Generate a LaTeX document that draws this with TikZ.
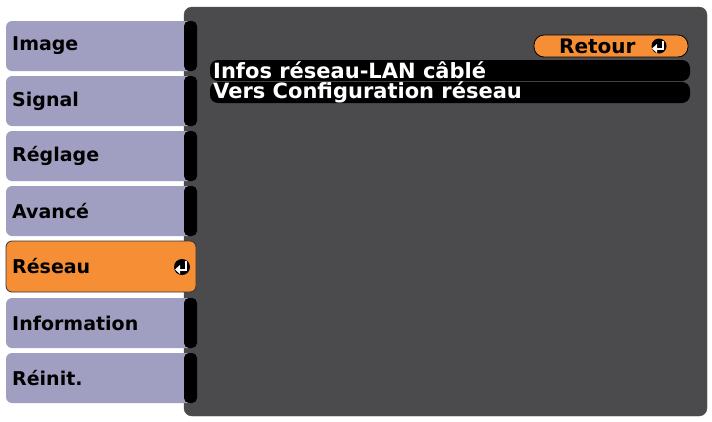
\documentclass[tikz,border=0pt]{standalone}
\usepackage{fontspec}
\setmainfont{DejaVu Sans}
\begin{document}
\begin{tikzpicture}[x=1pt,y=-1pt,
  tab/.style={fill=tabc,rounded corners=6pt},
  lbl/.style={anchor=west,font=\fontsize{19}{20}\selectfont\bfseries,inner sep=0pt},
  wlbl/.style={lbl,text=white,font=\fontsize{21}{22}\selectfont\bfseries}]
\definecolor{tabc}{HTML}{A09FC2}
\definecolor{panelc}{HTML}{4B4B4D}
\definecolor{orng}{HTML}{F68E35}
\useasboundingbox (0,0) rectangle (712,421);
\fill[white] (0,0) rectangle (712,421);
% panel
\draw[fill=panelc,draw=black!70,rounded corners=8pt] (184,7) rectangle (707,416);
% tabs
\foreach \y/\t/\n in {21/Image/ta,76/Signal/tb,131/Réglage/tc,186/Avancé/td,298/Information/tf,353/Réinit./tg}{
  \fill[tab] (6,\y) rectangle (194,\y+50);
  \fill[black,rounded corners=5pt] (184,\y) rectangle (197,\y+50);
  \node[lbl] (\n) at (12,\y+25) {\t};
}
\draw[fill=orng,draw=black!80,rounded corners=6pt,line width=0.8pt] (6,241) rectangle (196,292);
\node[lbl] (te) at (12,266.5) {Réseau};
\fill[black] (182,267) circle (8);
\draw[white,line width=2pt] (186,261) -- (186,269.5) -- (178,269.5);
\fill[white] (175,269.5) -- (180,265) -- (180,274) -- cycle;
% rows
\fill[black,rounded corners=8pt] (210,60) rectangle (690,81);
\fill[black,rounded corners=8pt] (210,82) rectangle (690,103);
\node[wlbl] (r1) at (213,70.5) {Infos réseau-LAN câblé};
\node[wlbl] (r2) at (213,92.5) {Vers Configuration réseau};
% retour
\draw[fill=orng,draw=black,line width=0.8pt,rounded corners=10pt] (534,35) rectangle (688,57);
\node[lbl,font=\fontsize{20}{21}\selectfont\bfseries] (ret) at (559,46) {Retour};
\fill[black] (659,46) circle (7.5);
\draw[white,line width=2pt] (663,40.5) -- (663,48.5) -- (655,48.5);
\fill[white] (652,48.5) -- (657,44) -- (657,53) -- cycle;
\end{tikzpicture}
\end{document}
